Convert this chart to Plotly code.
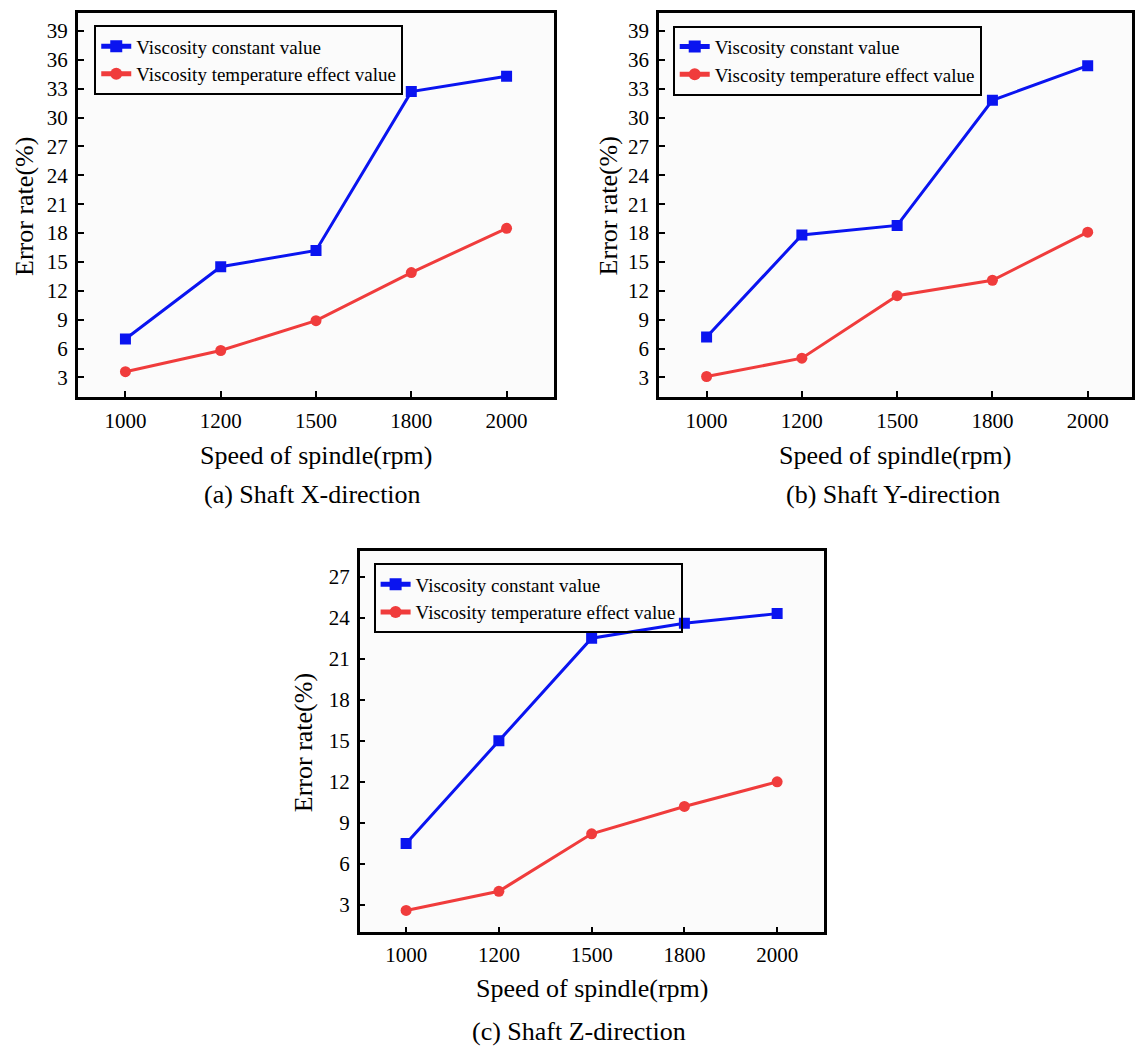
import plotly.graph_objects as go

W, H = 1135, 1048

speeds = ["1000", "1200", "1500", "1800", "2000"]

# Panel (a) Shaft X-direction
a_const = [7.0, 14.5, 16.2, 32.7, 34.3]
a_temp = [3.6, 5.8, 8.9, 13.9, 18.5]
# Panel (b) Shaft Y-direction
b_const = [7.2, 17.8, 18.8, 31.8, 35.4]
b_temp = [3.1, 5.0, 11.5, 13.1, 18.1]
# Panel (c) Shaft Z-direction
c_const = [7.5, 15.0, 22.5, 23.6, 24.3]
c_temp = [2.6, 4.0, 8.2, 10.2, 12.0]

name_const = "Viscosity constant value"
name_temp = "Viscosity temperature effect value"
x_title = "Speed of spindle(rpm)"
y_title = "Error rate(%)"
captions = ["(a) Shaft X-direction", "(b) Shaft Y-direction", "(c) Shaft Z-direction"]

FONT = "Liberation Serif, Times New Roman, serif"
BLUE = "#0a14f0"
RED = "#f03c3c"

def px_x(p):
    return p / W

def px_y(p):
    return 1 - p / H

fig = go.Figure()

panels = [
    (a_const, a_temp, "x", "y", "legend"),
    (b_const, b_temp, "x2", "y2", "legend2"),
    (c_const, c_temp, "x3", "y3", "legend3"),
]
for const, temp, xa, ya, lg in panels:
    fig.add_trace(go.Scatter(x=speeds, y=const, name=name_const, mode="lines+markers",
                             line=dict(color=BLUE, width=3),
                             marker=dict(symbol="square", size=11, color=BLUE),
                             xaxis=xa, yaxis=ya, legend=lg))
    fig.add_trace(go.Scatter(x=speeds, y=temp, name=name_temp, mode="lines+markers",
                             line=dict(color=RED, width=3),
                             marker=dict(symbol="circle", size=11, color=RED),
                             xaxis=xa, yaxis=ya, legend=lg))

axis_common = dict(showline=True, mirror=True, linecolor="black", linewidth=2.5,
                   ticks="inside", ticklen=6, tickwidth=2, tickcolor="black",
                   showgrid=False, zeroline=False,
                   tickfont=dict(family=FONT, size=21, color="black"))

fig.update_layout(
    width=W, height=H, autosize=False,
    margin=dict(l=0, r=0, t=0, b=0),
    paper_bgcolor="white", plot_bgcolor="#fbfbfb",
    showlegend=True,
    xaxis=dict(domain=[px_x(78), px_x(555.7)], type="category", range=[-0.5, 4.5],
               anchor="y", ticklabelstandoff=3, **axis_common),
    yaxis=dict(domain=[px_y(396.7), px_y(12.7)], range=[1.0, 40.9], dtick=3, tick0=0,
               anchor="x", ticklabelstandoff=3, **axis_common),
    xaxis2=dict(domain=[px_x(660.7), 1.0], type="category", range=[-0.5, 4.465],
                anchor="y2", ticklabelstandoff=3, **axis_common),
    yaxis2=dict(domain=[px_y(396.7), px_y(12.7)], range=[1.0, 40.9], dtick=3, tick0=0,
                anchor="x2", ticklabelstandoff=3, **axis_common),
    xaxis3=dict(domain=[px_x(360.7), px_x(825.7)], type="category", range=[-0.5, 4.5],
                anchor="y3", ticklabelstandoff=2, **axis_common),
    yaxis3=dict(domain=[px_y(932.3), px_y(550.7)], range=[1.0, 28.9], dtick=3, tick0=0,
                anchor="x3", ticklabelstandoff=3, **axis_common),
)

legend_common = dict(bgcolor="rgba(0,0,0,0)", bordercolor="black", borderwidth=2,
                     font=dict(family=FONT, size=19, color="black"),
                     xanchor="left", yanchor="top", tracegroupgap=0,
                     itemsizing="constant")
fig.update_layout(
    legend=dict(x=px_x(94.5), y=px_y(25.3), **legend_common),
    legend2=dict(x=px_x(674.5), y=px_y(25.6), **legend_common),
    legend3=dict(x=px_x(374.6), y=px_y(563.4), **legend_common),
)

ann = []
def add_text(text, x, y, size=26, angle=0):
    ann.append(dict(text=text, x=px_x(x), y=px_y(y), xref="paper", yref="paper",
                    showarrow=False, textangle=angle, xanchor="center", yanchor="middle",
                    font=dict(family=FONT, size=size, color="black")))

# Panel a
add_text(y_title, 24, 206, angle=-90)
add_text(x_title, 317, 455)
add_text(captions[0], 313, 494)
# Panel b
add_text(y_title, 610, 206, angle=-90)
add_text(x_title, 898, 455)
add_text(captions[1], 895, 494)
# Panel c
add_text(y_title, 304, 743, angle=-90)
add_text(x_title, 594, 988)
add_text(captions[2], 581, 1031)

fig.update_layout(annotations=ann)

fig.write_html("out.html")
